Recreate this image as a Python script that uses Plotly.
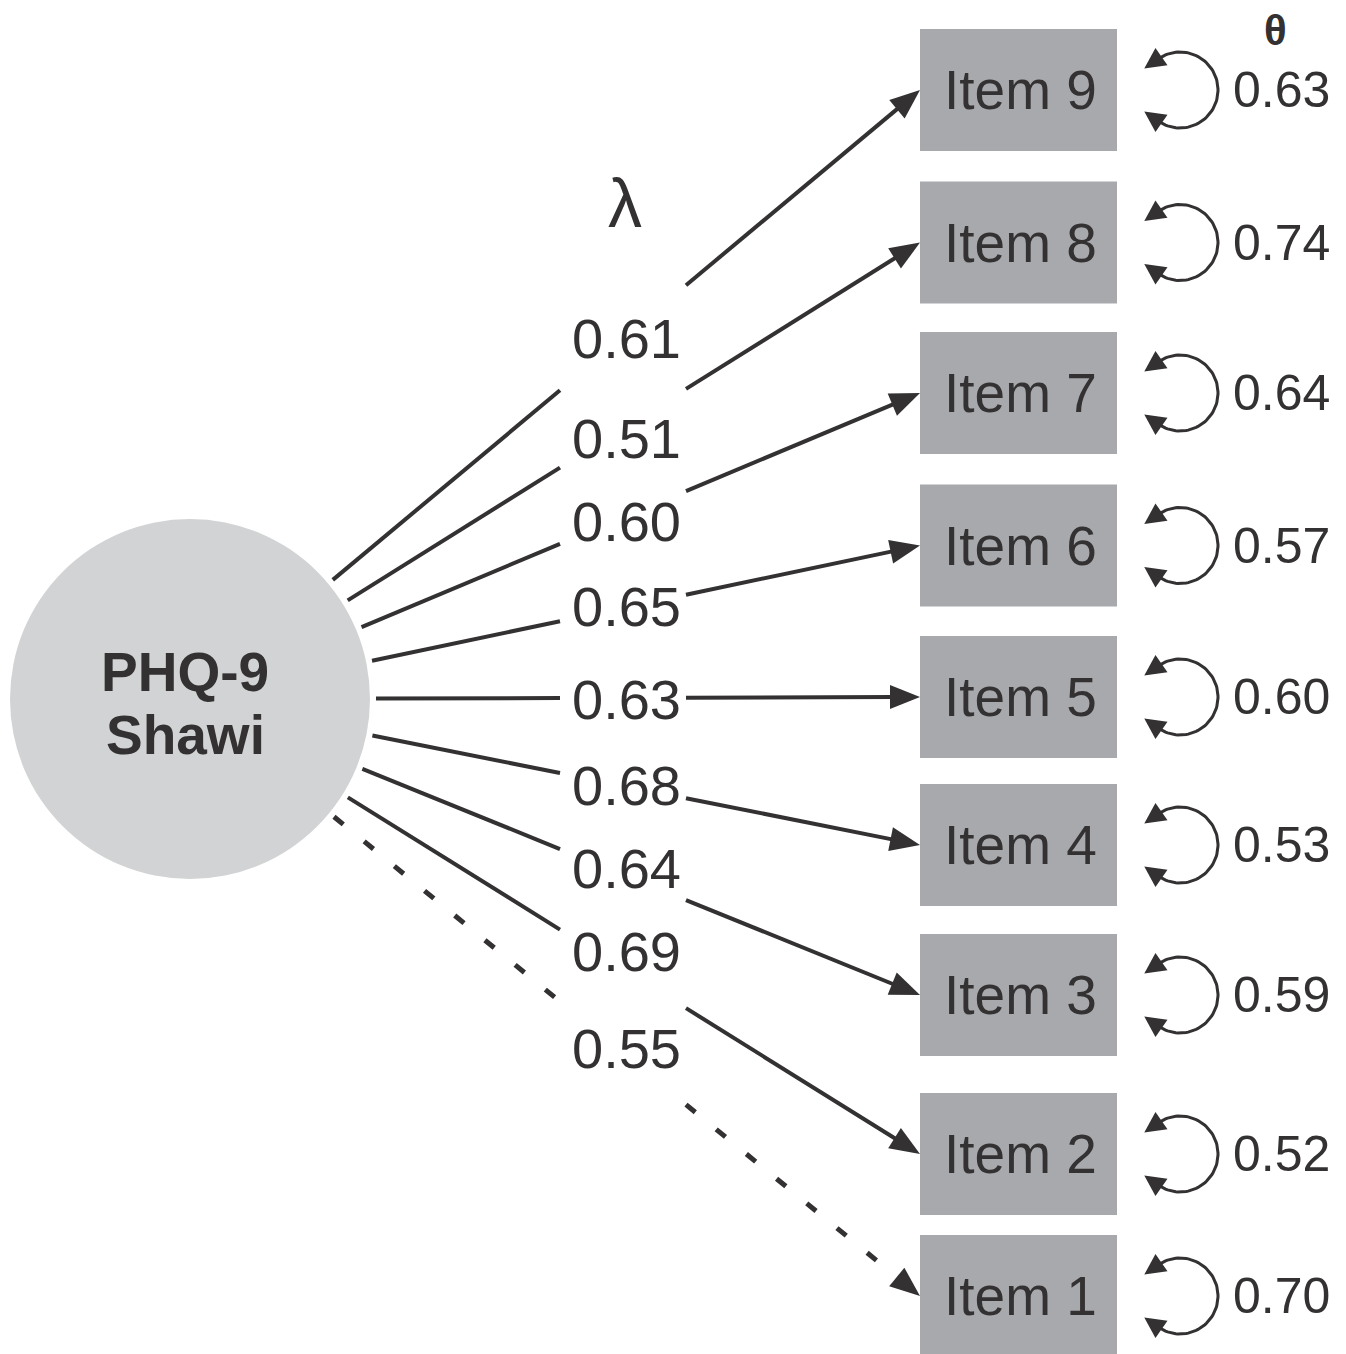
import numpy as np
import plotly.graph_objects as go

# ---------------- data ----------------
items = ["Item 9", "Item 8", "Item 7", "Item 6", "Item 5", "Item 4", "Item 3", "Item 2", "Item 1"]
loadings = [0.61, 0.51, 0.60, 0.65, 0.63, 0.68, 0.64, 0.69, 0.55]
residuals = [0.63, 0.74, 0.64, 0.57, 0.60, 0.53, 0.59, 0.52, 0.70]
marker_item = [False, False, False, False, False, False, False, False, True]
latent_lines = ["PHQ-9", "Shawi"]
loading_header = "λ"
residual_header = "θ"

# ---------------- layout constants ----------------
W, H = 1346, 1354
OFF = 8  # page body margin compensation
BOX_Y = [90, 242.5, 393, 545.5, 697, 845, 995, 1154, 1296]
BOX_X0, BOX_X1, BOX_HALF = 920, 1117, 61
CX, CY, CR = 190, 699, 180
START_R = 186
GAP_X0, GAP_X1 = 560, 686
LABEL_X = 626
LABEL_Y = [338, 438, 521, 606, 699, 785, 868, 951, 1048]
LOOP_CX, LOOP_R = 1180, 38
LOOP_END_DEG = 125
RES_X = 1281
LATENT_LINE_GAP = 63

DARK = "#333132"
BOX_COL = "#a8a9ad"
CIRC_COL = "#d1d3d4"
FONT = "Liberation Sans, Arial, Helvetica, sans-serif"

fig = go.Figure()
shapes = []
annotations = []

# latent circle
shapes.append(dict(type="circle", xref="x", yref="y", x0=CX - CR, x1=CX + CR,
                   y0=CY - CR, y1=CY + CR, fillcolor=CIRC_COL, line=dict(width=0), layer="below"))
n_lines = len(latent_lines)
for k, txt in enumerate(latent_lines):
    annotations.append(dict(x=CX - 5, y=CY + 4 + (k - (n_lines - 1) / 2) * LATENT_LINE_GAP,
                            text="<b>" + txt + "</b>", showarrow=False,
                            font=dict(family=FONT, size=55, color=DARK),
                            xanchor="center", yanchor="middle"))


def arrowhead(tip, direction, length, half_w):
    d = np.array(direction, float)
    d /= np.linalg.norm(d)
    n = np.array([-d[1], d[0]])
    base = np.array(tip) - d * length
    p1 = base + n * half_w
    p2 = base - n * half_w
    return [tip[0], p1[0], p2[0], tip[0]], [tip[1], p1[1], p2[1], tip[1]]


for i, (name, lam, res, mk) in enumerate(zip(items, loadings, residuals, marker_item)):
    by = BOX_Y[i]
    # box
    shapes.append(dict(type="rect", xref="x", yref="y", x0=BOX_X0, x1=BOX_X1,
                       y0=by - BOX_HALF, y1=by + BOX_HALF, fillcolor=BOX_COL,
                       line=dict(width=0), layer="below"))
    annotations.append(dict(x=(BOX_X0 + BOX_X1) / 2 + 2, y=by, text=name, showarrow=False,
                            font=dict(family=FONT, size=55, color=DARK),
                            xanchor="center", yanchor="middle"))

    # loading path
    tip = np.array([BOX_X0, by], float)
    d = tip - np.array([CX, CY], float)
    u = d / np.linalg.norm(d)
    start = np.array([CX, CY]) + u * START_R
    t0 = (GAP_X0 - CX) / u[0]
    t1 = (GAP_X1 - CX) / u[0]
    p_gap0 = np.array([CX, CY]) + u * t0
    p_gap1 = np.array([CX, CY]) + u * t1
    end = tip - u * 26
    line_style = dict(color=DARK, width=5, dash="12px,27px") if mk else dict(color=DARK, width=4)
    fig.add_trace(go.Scatter(x=[start[0], p_gap0[0], None, p_gap1[0], end[0]],
                             y=[start[1], p_gap0[1], None, p_gap1[1], end[1]],
                             mode="lines", line=line_style, hoverinfo="skip", showlegend=False))
    ax, ay = arrowhead(tip, u, 30, 12)
    fig.add_trace(go.Scatter(x=ax, y=ay, mode="lines", fill="toself", fillcolor=DARK,
                             line=dict(width=0, color=DARK), hoverinfo="skip", showlegend=False))
    annotations.append(dict(x=LABEL_X, y=LABEL_Y[i], text=f"{lam:.2f}", showarrow=False,
                            font=dict(family=FONT, size=56, color=DARK),
                            xanchor="center", yanchor="middle"))

    # residual loop
    a = np.radians(np.linspace(LOOP_END_DEG, -LOOP_END_DEG, 80))
    lx = LOOP_CX + LOOP_R * np.cos(a)
    ly = by - LOOP_R * np.sin(a)
    fig.add_trace(go.Scatter(x=lx, y=ly, mode="lines", line=dict(color=DARK, width=3),
                             hoverinfo="skip", showlegend=False))
    for ang, sgn in [(LOOP_END_DEG, 1), (-LOOP_END_DEG, -1)]:
        ar = np.radians(ang)
        endp = np.array([LOOP_CX + LOOP_R * np.cos(ar), by - LOOP_R * np.sin(ar)])
        if sgn == 1:
            tdir = np.array([-np.sin(ar), -np.cos(ar)])
        else:
            tdir = np.array([np.sin(ar), np.cos(ar)])
        tipl = endp + tdir * 17
        hx, hy = arrowhead(tipl, tdir, 21, 10.5)
        fig.add_trace(go.Scatter(x=hx, y=hy, mode="lines", fill="toself", fillcolor=DARK,
                                 line=dict(width=0, color=DARK), hoverinfo="skip", showlegend=False))
    annotations.append(dict(x=RES_X, y=by, text=f"{res:.2f}", showarrow=False,
                            font=dict(family=FONT, size=50, color=DARK),
                            xanchor="center", yanchor="middle"))

annotations.append(dict(x=625, y=203, text=loading_header, showarrow=False,
                        font=dict(family=FONT, size=68, color=DARK), xanchor="center", yanchor="middle"))
annotations.append(dict(x=1275, y=30, text="<b>" + residual_header + "</b>", showarrow=False,
                        font=dict(family=FONT, size=42, color=DARK), xanchor="center", yanchor="middle"))

fig.update_layout(
    width=W, height=H, margin=dict(l=0, r=0, t=0, b=0),
    paper_bgcolor="white", plot_bgcolor="white",
    xaxis=dict(range=[OFF, W + OFF], visible=False, fixedrange=True),
    yaxis=dict(range=[H + OFF, OFF], visible=False, fixedrange=True),
    shapes=shapes, annotations=annotations, showlegend=False,
)
fig.write_html("out.html")
